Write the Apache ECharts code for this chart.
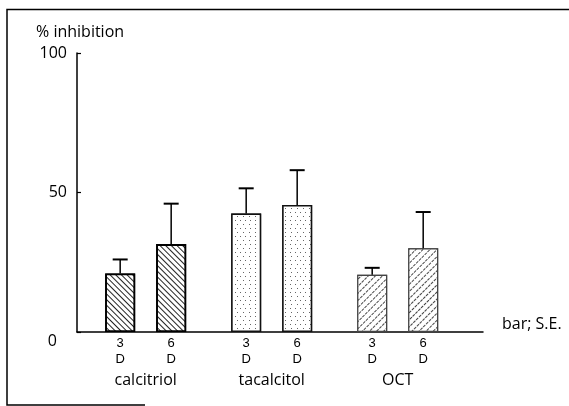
<!DOCTYPE html>
<html>
<head>
<meta charset="utf-8">
<script src="https://cdn.jsdelivr.net/npm/echarts@6/dist/echarts.min.js"></script>
<style>
  html, body { margin: 0; padding: 0; background: #fff; }
  #chart { width: 569px; height: 406px; }
</style>
</head>
<body>
<div id="chart"></div>
<script>
// Treatment groups and their measured inhibition (%) with standard errors
const groups = ['calcitriol', 'tacalcitol', 'OCT'];
const durations = ['3\nD', '6\nD'];
const mean3D = [21, 42.5, 20.5];
const mean6D = [31.5, 45.5, 30];
const se3D = [5, 9, 2.5];
const se6D = [14.5, 12.5, 13];
const yTicks = [0, 50, 100];

const FONT = 'Open Sans';
const BAR_W = 30;
const GAP_PCT = 70;
const HALF_STEP = (BAR_W + BAR_W * GAP_PCT / 100) / 2;

// Fill pattern per group
const groupStyles = [
  { borderColor: '#000', borderWidth: 1.8,
    decal: { symbol: 'rect', dashArrayX: [1, 0], dashArrayY: [1, 3], rotation: Math.PI / 4, color: '#222', backgroundColor: '#fff' } },
  { borderColor: '#111', borderWidth: 1.5,
    decal: { symbol: 'rect', symbolSize: 1, dashArrayX: [[1, 4], [0, 2.5, 1, 1.5]], dashArrayY: [1, 2.5], color: '#666', backgroundColor: '#fff' } },
  { borderColor: '#444', borderWidth: 1.2,
    decal: { symbol: 'rect', dashArrayX: [3, 1], dashArrayY: [1, 3.2], rotation: -Math.PI / 4, color: '#444', backgroundColor: '#fff' } }
];

function barData(means) {
  return means.map((v, i) => ({ value: [i + 1, v], itemStyle: Object.assign({ color: '#fff' }, groupStyles[i]) }));
}

function errData(means, ses) {
  return means.map((v, i) => [i + 1, v, v + ses[i]]);
}

function errSeries(means, ses, shift) {
  return {
    type: 'custom',
    data: errData(means, ses),
    z: 3,
    renderItem: function (params, api) {
      const base = api.coord([api.value(0), api.value(1)]);
      const top = api.coord([api.value(0), api.value(2)]);
      const x = base[0] + shift;
      const cap = 7.5;
      return {
        type: 'group',
        children: [
          { type: 'line', shape: { x1: x, y1: base[1], x2: x, y2: top[1] }, style: { stroke: '#000', lineWidth: 1.5 } },
          { type: 'line', shape: { x1: x - cap, y1: top[1], x2: x + cap, y2: top[1] }, style: { stroke: '#000', lineWidth: 2 } }
        ]
      };
    }
  };
}

function barSeries(means, label) {
  return {
    type: 'bar',
    data: barData(means),
    barWidth: BAR_W,
    barGap: GAP_PCT + '%',
    z: 2,
    label: {
      show: true,
      position: 'bottom',
      distance: 3,
      formatter: label,
      fontFamily: 'Liberation Sans',
      fontSize: 13,
      lineHeight: 16,
      color: '#000'
    }
  };
}

const chart = echarts.init(document.getElementById('chart'), null, { renderer: 'canvas' });
chart.setOption({
  animation: false,
  backgroundColor: '#fff',
  title: [
    { text: '% inhibition', left: 31, top: 19, textStyle: { fontFamily: FONT, fontSize: 16, fontWeight: 'normal', color: '#000' } },
    { text: 'bar; S.E.', left: 497, top: 311, textStyle: { fontFamily: FONT, fontSize: 16, fontWeight: 'normal', color: '#000' } }
  ],
  grid: { left: 77, right: 86, top: 53, bottom: 74 },
  xAxis: {
    type: 'value',
    min: 0.455,
    max: 3.677,
    axisLine: { show: true, onZero: false, lineStyle: { color: '#000', width: 1.5 } },
    axisTick: { show: false },
    splitLine: { show: false },
    axisLabel: {
      customValues: [1, 2, 3],
      formatter: v => groups[Math.round(v) - 1] || '',
      margin: 40,
      fontFamily: FONT,
      fontSize: 16,
      color: '#000'
    }
  },
  yAxis: {
    type: 'value',
    min: yTicks[0],
    max: yTicks[yTicks.length - 1],
    interval: 50,
    axisLine: { show: true, lineStyle: { color: '#000', width: 1.5 } },
    axisTick: { show: true, inside: true, length: 4, lineStyle: { color: '#000', width: 1.2 } },
    splitLine: { show: false },
    axisLabel: {
      margin: 10,
      fontFamily: FONT,
      fontSize: 16,
      color: '#000',
      formatter: v => v === 0 ? '{z|0}' : String(v),
      rich: { z: { fontFamily: FONT, fontSize: 16, color: '#000', padding: [18, 10, 0, 0] } }
    }
  },
  series: [
    barSeries(mean3D, durations[0]),
    barSeries(mean6D, durations[1]),
    errSeries(mean3D, se3D, -HALF_STEP),
    errSeries(mean6D, se6D, HALF_STEP)
  ],
  graphic: [
    { type: 'polyline', shape: { points: [[569, 9.5], [7, 9.5], [7, 405], [145, 405]] }, style: { stroke: '#000', lineWidth: 1.5, fill: null } }
  ]
});
</script>
</body>
</html>
